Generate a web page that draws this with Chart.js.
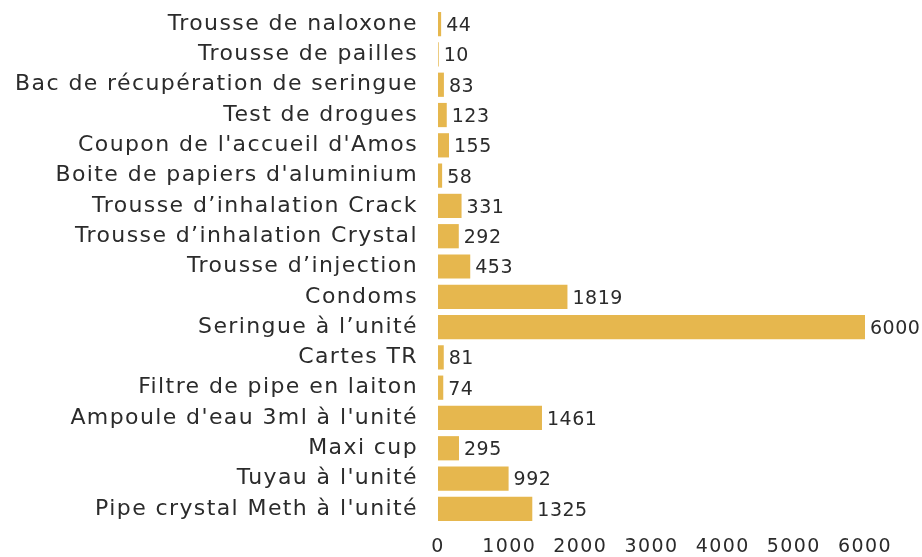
<!DOCTYPE html>
<html>
<head>
<meta charset="utf-8">
<script src="https://cdn.jsdelivr.net/npm/chart.js@4"></script>
<style>
  html, body { margin: 0; padding: 0; background: #fff; }
  #wrap { width: 922px; height: 557px; }
</style>
</head>
<body>
<div id="wrap"><canvas id="chart"></canvas></div>
<script>
// Categories, top to bottom
const categories = [
  "Trousse de naloxone",
  "Trousse de pailles",
  "Bac de récupération de seringue",
  "Test de drogues",
  "Coupon de l'accueil d'Amos",
  "Boite de papiers d'aluminium",
  "Trousse d’inhalation Crack",
  "Trousse d’inhalation Crystal",
  "Trousse d’injection",
  "Condoms",
  "Seringue à l’unité",
  "Cartes TR",
  "Filtre de pipe en laiton",
  "Ampoule d'eau 3ml à l'unité",
  "Maxi cup",
  "Tuyau à l'unité",
  "Pipe crystal Meth à l'unité"
];
const values = [44, 10, 83, 123, 155, 58, 331, 292, 453, 1819, 6000, 81, 74, 1461, 295, 992, 1325];
const xTicks = [0, 1000, 2000, 3000, 4000, 5000, 6000];

const barColor = '#E6B74E';
const textColor = '#2b2b2b';
const fontFamily = '"DejaVu Sans", sans-serif';

// wider letter spacing, closer to the geometric font of the original
const spacing = {
  id: 'spacing',
  beforeDraw(chart) { chart.ctx.letterSpacing = '1.4px'; }
};

// draw the value to the right of each bar
const valueLabels = {
  id: 'valueLabels',
  afterDatasetsDraw(chart) {
    const ctx = chart.ctx;
    const meta = chart.getDatasetMeta(0);
    ctx.save();
    ctx.letterSpacing = '0.5px';
    ctx.font = '19px ' + fontFamily;
    ctx.fillStyle = textColor;
    ctx.textBaseline = 'middle';
    ctx.textAlign = 'left';
    meta.data.forEach((bar, i) => {
      ctx.fillText(String(values[i]), bar.x + 5, bar.y + 2);
    });
    ctx.restore();
  }
};

new Chart(document.getElementById('chart'), {
  type: 'bar',
  data: {
    labels: categories,
    datasets: [{
      data: values,
      backgroundColor: barColor,
      borderWidth: 0,
      categoryPercentage: 0.8,
      barPercentage: 1.0
    }]
  },
  options: {
    indexAxis: 'y',
    responsive: true,
    maintainAspectRatio: false,
    animation: false,
    layout: { padding: { top: 9, right: 57, bottom: 0, left: 0 } },
    plugins: {
      legend: { display: false },
      tooltip: { enabled: false }
    },
    scales: {
      x: {
        min: 0,
        max: 6000,
        afterBuildTicks(axis) { axis.ticks = xTicks.map(v => ({ value: v })); },
        afterFit(axis) { axis.height = 33; },
        grid: { display: false },
        border: { display: false },
        ticks: {
          color: textColor, font: { family: fontFamily, size: 19 }, padding: 4,
          callback: v => String(v)
        }
      },
      y: {
        afterFit(axis) { axis.width = 438; axis.paddingTop = 0; axis.paddingBottom = 0; },
        grid: { display: false },
        border: { display: false },
        ticks: { color: textColor, font: { family: fontFamily, size: 22 }, padding: 12, autoSkip: false }
      }
    }
  },
  plugins: [spacing, valueLabels]
});
</script>
</body>
</html>
